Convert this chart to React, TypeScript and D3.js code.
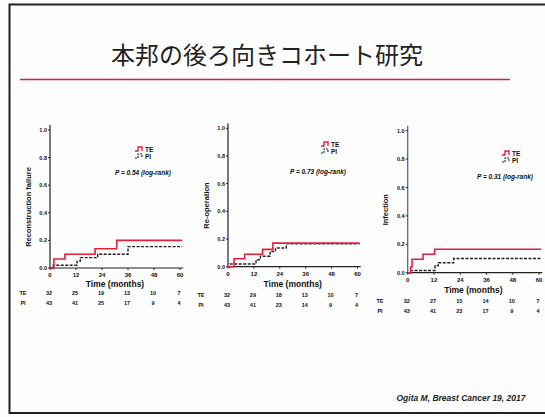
import * as d3 from "d3";

// values
const xTicks = [0, 12, 24, 36, 48, 60];
const yTicks = [0, 0.2, 0.4, 0.6, 0.8, 1.0];
const groups = ["TE", "PI"];

const teFailure: [number, number][] = [[0, 0], [1.8, 0.065], [6.9, 0.10], [20.8, 0.14], [30.8, 0.20], [61, 0.20]];
const piFailure: [number, number][] = [[0, 0], [1.5, 0.02], [12.5, 0.05], [14, 0.075], [22, 0.10], [36, 0.155], [61, 0.155]];
const teReop: [number, number][] = [[0, 0], [2.8, 0.057], [7.7, 0.09], [16, 0.125], [20.8, 0.17], [61, 0.17]];
const piReop: [number, number][] = [[0, 0], [1, 0.02], [13, 0.05], [15, 0.075], [19.5, 0.11], [22, 0.135], [27, 0.165], [61, 0.165]];
const teInf: [number, number][] = [[0, 0], [1.3, 0.04], [2, 0.095], [7, 0.13], [12.3, 0.165], [61, 0.165]];
const piInf: [number, number][] = [[0, 0], [1, 0.015], [12.5, 0.05], [14, 0.07], [21, 0.10], [61, 0.10]];

const riskFailure = [[32, 25, 19, 13, 10, 7], [43, 41, 25, 17, 9, 4]];
const riskReop = [[32, 29, 18, 13, 10, 7], [43, 41, 23, 14, 9, 4]];
const riskInf = [[32, 27, 15, 14, 10, 7], [43, 41, 23, 17, 9, 4]];

const yLabels = ["Reconstruction failure", "Re-operation", "Infection"];
const pTexts = ["0.54", "0.73", "0.31"];

// layout of each panel on the slide
const panels = [
  { x0: 50, x1: 180, y0: 268, y1: 130, te: teFailure, pi: piFailure, risk: riskFailure, rowLabelX: 23, rowY: 295, timeY: 287, labelX: 31, legX: 135, legY: 149, pX: 115, pY: 175 },
  { x0: 228, x1: 357.5, y0: 266.7, y1: 128.3, te: teReop, pi: piReop, risk: riskReop, rowLabelX: 201, rowY: 297, timeY: 287, labelX: 209, legX: 321, legY: 144, pX: 290, pY: 174 },
  { x0: 407.7, x1: 539, y0: 272.7, y1: 130.7, te: teInf, pi: piInf, risk: riskInf, rowLabelX: 380, rowY: 303, timeY: 293, labelX: 388, legX: 502, legY: 153, pX: 477, pY: 179 },
];

const bold = "'Liberation Sans', Arial, sans-serif";

function Panel({ p, i }: { p: typeof panels[number]; i: number }) {
  const x = d3.scaleLinear().domain([0, 60]).range([p.x0, p.x1]);
  const y = d3.scaleLinear().domain([0, 1]).range([p.y0, p.y1]);
  const line = d3.line<[number, number]>().x(d => x(d[0])).y(d => y(d[1])).curve(d3.curveStepAfter);
  const midY = (p.y0 + p.y1) / 2 + 8;
  return (
    <g fontFamily={bold} fontWeight="bold" fill="#111">
      {/* axes */}
      <line x1={p.x0} x2={p.x0} y1={y(1) - 5} y2={p.y0} stroke={i === 2 ? "#4a5d8f" : "#222"} strokeWidth={1.2} />
      <line x1={p.x0} x2={x(61.5)} y1={p.y0} y2={p.y0} stroke="#222" strokeWidth={1.2} />
      {yTicks.map(t => (
        <g key={t}>
          <line x1={p.x0 - 2} x2={p.x0} y1={y(t)} y2={y(t)} stroke="#222" />
          <text x={p.x0 - 3} y={y(t) + 2} fontSize={5.5} textAnchor="end">{t.toFixed(1)}</text>
        </g>
      ))}
      {xTicks.map(t => (
        <g key={t}>
          <line x1={x(t)} x2={x(t)} y1={p.y0} y2={p.y0 + 2} stroke="#222" />
          <text x={x(t)} y={p.y0 + 9} fontSize={6} textAnchor="middle">{t}</text>
        </g>
      ))}
      <text x={x(30)} y={p.timeY} fontSize={8.5} textAnchor="middle">Time (months)</text>
      <text transform={`translate(${p.labelX},${midY}) rotate(-90)`} fontSize={7.5} textAnchor="middle">{yLabels[i]}</text>
      {/* curves */}
      <path d={line(p.pi) || ""} fill="none" stroke="#222" strokeWidth={1.4} strokeDasharray="3,1.5" />
      <path d={line(p.te) || ""} fill="none" stroke="#e0213a" strokeWidth={1.6} />
      {/* legend */}
      <path d={`M${p.legX},${p.legY + 2}h3v-4h4v4`} fill="none" stroke="#e0213a" strokeWidth={1.4} />
      <text x={p.legX + 10} y={p.legY + 2.5} fontSize={6.5}>TE</text>
      <path d={`M${p.legX},${p.legY + 9}h3v-4h4v4`} fill="none" stroke="#222" strokeWidth={1.1} strokeDasharray="2,1" />
      <text x={p.legX + 10} y={p.legY + 9.5} fontSize={6.5}>PI</text>
      <text x={p.pX} y={p.pY} fontSize={6.5} fontStyle="italic">{`P = ${pTexts[i]} (log-rank)`}</text>
      {/* numbers at risk */}
      {groups.map((g, gi) => (
        <g key={g}>
          <text x={p.rowLabelX} y={p.rowY + gi * 9.5} fontSize={5.5} textAnchor="middle">{g}</text>
          {p.risk[gi].map((v, k) => (
            <text key={k} x={x(xTicks[k]) - 1} y={p.rowY + gi * 9.5} fontSize={5.5} textAnchor="middle">{v}</text>
          ))}
        </g>
      ))}
    </g>
  );
}

export default function App() {
  return (
    <svg width={545} height={417} style={{ position: "absolute", left: 0, top: 0, background: "#fff" }}>
      <rect x={0} y={0} width={545} height={417} fill="#fdfdfd" />
      <path d="M545,4.5H9.5V413H545" fill="none" stroke="#222" strokeWidth={2} />
      <text x={267} y={64} fontSize={24} textAnchor="middle" fontFamily="'Noto Sans CJK JP', sans-serif" fill="#222">本邦の後ろ向きコホート研究</text>
      <line x1={20} x2={510} y1={79.5} y2={79.5} stroke="#d81b5a" strokeWidth={1.4} />
      {panels.map((p, i) => <Panel key={i} p={p} i={i} />)}
      <text x={461} y={401} fontSize={8.5} fontWeight="bold" fontStyle="italic" textAnchor="middle" fontFamily={bold} fill="#222">Ogita M, Breast Cancer 19, 2017</text>
    </svg>
  );
}
